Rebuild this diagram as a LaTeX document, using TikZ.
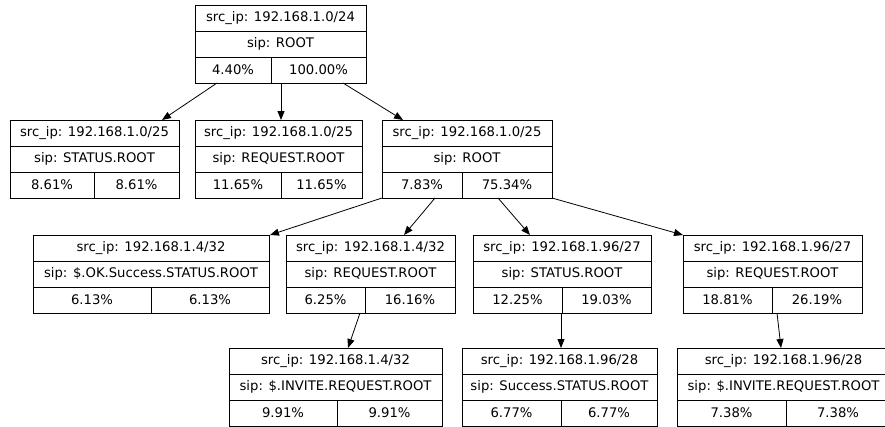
\documentclass[tikz,border=0pt]{standalone}
\usepackage{fontspec}
\setmainfont{DejaVu Sans}
\usetikzlibrary{arrows.meta}

% record box: name, left, top, right, column divider, src line, sip line, left %, right %
\newcommand\recbox[9]{%
  \node[rec, minimum width={#4pt-#2pt}, anchor=north west] (#1) at (#2,#3) {};
  \draw[recline] ([yshift=-26pt]#1.north west) -- ([yshift=-26pt]#1.north east);
  \draw[recline] ([yshift=-52pt]#1.north west) -- ([yshift=-52pt]#1.north east);
  \draw[recline] (#5,#3+52) -- (#5,#3+78);
  \node[lbl] at ([yshift=-13pt]#1.north) {#6};
  \node[lbl] at ([yshift=-39pt]#1.north) {#7};
  \node[lbl] at ({(#2+#5)/2},{#3+65}) {#8};
  \node[lbl] at ({(#5+#4)/2},{#3+65}) {#9};
}

\begin{document}
\begin{tikzpicture}[x=1pt, y=-1pt,
  rec/.style={draw=black, line width=0.9pt, rectangle, inner sep=0pt, outer sep=0pt,
              minimum height=78pt},
  recline/.style={draw=black, line width=0.9pt},
  lbl/.style={inner sep=0pt, font=\fontsize{13.2}{16}\selectfont},
  edge/.style={draw=black, line width=0.8pt, -{Triangle[length=9pt,width=7pt]}}]
\useasboundingbox (0,0) rectangle (885,426);

% level 0
\recbox{root}{195}{5}{366}{271}{src\_ip: 192.168.1.0/24}{sip: ROOT}{4.40\%}{100.00\%}

% level 1
\recbox{a1}{10}{120}{179}{94}{src\_ip: 192.168.1.0/25}{sip: STATUS.ROOT}{8.61\%}{8.61\%}
\recbox{a2}{195}{120}{362}{281}{src\_ip: 192.168.1.0/25}{sip: REQUEST.ROOT}{11.65\%}{11.65\%}
\recbox{a3}{382}{120}{552}{462}{src\_ip: 192.168.1.0/25}{sip: ROOT}{7.83\%}{75.34\%}

% level 2
\recbox{b1}{33}{235}{269}{151}{src\_ip: 192.168.1.4/32}{sip: \$.OK.Success.STATUS.ROOT}{6.13\%}{6.13\%}
\recbox{b2}{286}{235}{455}{365}{src\_ip: 192.168.1.4/32}{sip: REQUEST.ROOT}{6.25\%}{16.16\%}
\recbox{b3}{473}{235}{651}{562}{src\_ip: 192.168.1.96/27}{sip: STATUS.ROOT}{12.25\%}{19.03\%}
\recbox{b4}{683}{235}{862}{772}{src\_ip: 192.168.1.96/27}{sip: REQUEST.ROOT}{18.81\%}{26.19\%}

% level 3
\recbox{c1}{229}{348}{442}{337}{src\_ip: 192.168.1.4/32}{sip: \$.INVITE.REQUEST.ROOT}{9.91\%}{9.91\%}
\recbox{c2}{462}{348}{657}{561}{src\_ip: 192.168.1.96/28}{sip: Success.STATUS.ROOT}{6.77\%}{6.77\%}
\recbox{c3}{677}{348}{890}{786}{src\_ip: 192.168.1.96/28}{sip: \$.INVITE.REQUEST.ROOT}{7.38\%}{7.38\%}

% edges
\draw[edge] ([xshift=22pt]root.south west) -- ([xshift=-17pt]a1.north east);
\draw[edge] ([xshift=86pt]root.south west) -- ([xshift=86pt]a2.north west);
\draw[edge] ([xshift=-23pt]root.south east) -- ([xshift=21pt]a3.north west);

\draw[edge] (a3.south west) -- ([xshift=1pt]b1.north east);
\draw[edge] ([xshift=53pt]a3.south west) -- ([xshift=118pt]b2.north west);
\draw[edge] ([xshift=-54pt]a3.south east) -- ([xshift=57pt]b3.north west);
\draw[edge] (a3.south east) -- (b4.north west);

\draw[edge] ([xshift=74pt]b2.south west) -- ([xshift=119pt]c1.north west);
\draw[edge] ([xshift=88pt]b3.south west) -- ([xshift=99pt]c2.north west);
\draw[edge] ([xshift=94pt]b4.south west) -- ([xshift=104pt]c3.north west);
\end{tikzpicture}
\end{document}
